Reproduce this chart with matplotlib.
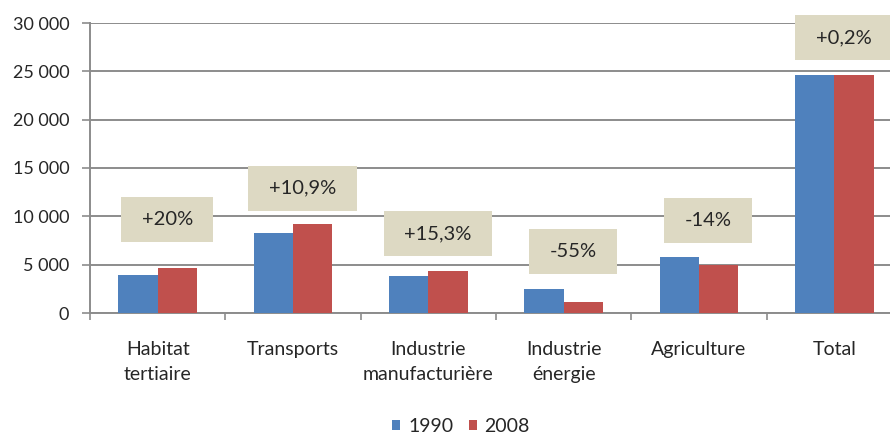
import matplotlib
matplotlib.use("Agg")
import matplotlib.pyplot as plt
from matplotlib.ticker import FuncFormatter, FixedLocator
from matplotlib.patches import Rectangle
from matplotlib.transforms import IdentityTransform
import numpy as np

# Emissions by sector, 1990 vs 2008
categories = ["Habitat\ntertiaire", "Transports", "Industrie\nmanufacturière",
              "Industrie\nénergie", "Agriculture", "Total"]
v1990 = [3900, 8300, 3800, 2500, 5750, 24600]
v2008 = [4680, 9200, 4380, 1120, 4950, 24650]
changes = ["+20%", "+10,9%", "+15,3%", "-55%", "-14%", "+0,2%"]
change_y = [9700, 12900, 8200, 6400, 9600, 28450]
years = ["1990", "2008"]

BLUE = "#4F81BD"
RED = "#C0504D"
TAN = "#DDD9C3"
GRID = "#8C8C8C"
TEXT = "#262626"

plt.rcParams["font.family"] = ["Lato", "DejaVu Sans"]

fig = plt.figure(figsize=(8.9, 4.34), dpi=100)
ax = fig.add_axes([90 / 890, 1 - 313 / 434, 812 / 890, 290 / 434])

x = np.arange(len(categories))
w = 0.29
b1 = ax.bar(x - w / 2, v1990, w, color=BLUE, label=years[0], zorder=3)
b2 = ax.bar(x + w / 2, v2008, w, color=RED, label=years[1], zorder=3)

labels = []
for xi, txt, yv in zip(x, changes, change_y):
    labels.append(ax.text(xi + 0.07, yv, txt, ha="center", va="center",
                          fontsize=14.5, color=TEXT, zorder=5))

ax.set_xlim(-0.5, len(categories) - 0.5)
ax.set_ylim(0, 30000)
ax.set_yticks(np.arange(0, 30001, 5000))
ax.yaxis.set_major_formatter(
    FuncFormatter(lambda v, p: f"{int(v):,}".replace(",", " ")))
ax.yaxis.grid(True, color=GRID, linewidth=1.4, zorder=0)
ax.set_axisbelow(True)

ax.set_xticks(x)
ax.set_xticklabels(categories, fontsize=14, color=TEXT, linespacing=1.6)
ax.xaxis.set_minor_locator(FixedLocator(np.arange(-0.5, len(categories), 1.0)))
ax.tick_params(axis="x", which="major", length=0, pad=20)
ax.tick_params(axis="x", which="minor", length=5, width=1.2, color=GRID,
               direction="out")
ax.tick_params(axis="y", length=6, width=1.2, color=GRID, pad=9,
               labelsize=13, labelcolor=TEXT)

for s in ("top", "right"):
    ax.spines[s].set_visible(False)
for s in ("left", "bottom"):
    ax.spines[s].set_color(GRID)
    ax.spines[s].set_linewidth(1.4)

fig.legend(handles=[b1, b2], loc="center", bbox_to_anchor=(461 / 890, 1 - 426 / 434),
           ncol=2, frameon=False, fontsize=14, handlelength=0.42,
           handleheight=0.42, handletextpad=0.4, columnspacing=0.8,
           labelcolor=TEXT)

# Tan boxes behind the change labels: fixed height, width follows the text
fig.canvas.draw()
renderer = fig.canvas.get_renderer()
for t in labels:
    bb = t.get_window_extent(renderer)
    cx, cy = (bb.x0 + bb.x1) / 2, (bb.y0 + bb.y1) / 2
    bw, bh = bb.width + 41, 45
    ax.add_patch(Rectangle((cx - bw / 2, cy - bh / 2), bw, bh,
                           transform=IdentityTransform(), facecolor=TAN,
                           edgecolor="none", zorder=4, clip_on=False))

fig.savefig("out.png", dpi=100)
